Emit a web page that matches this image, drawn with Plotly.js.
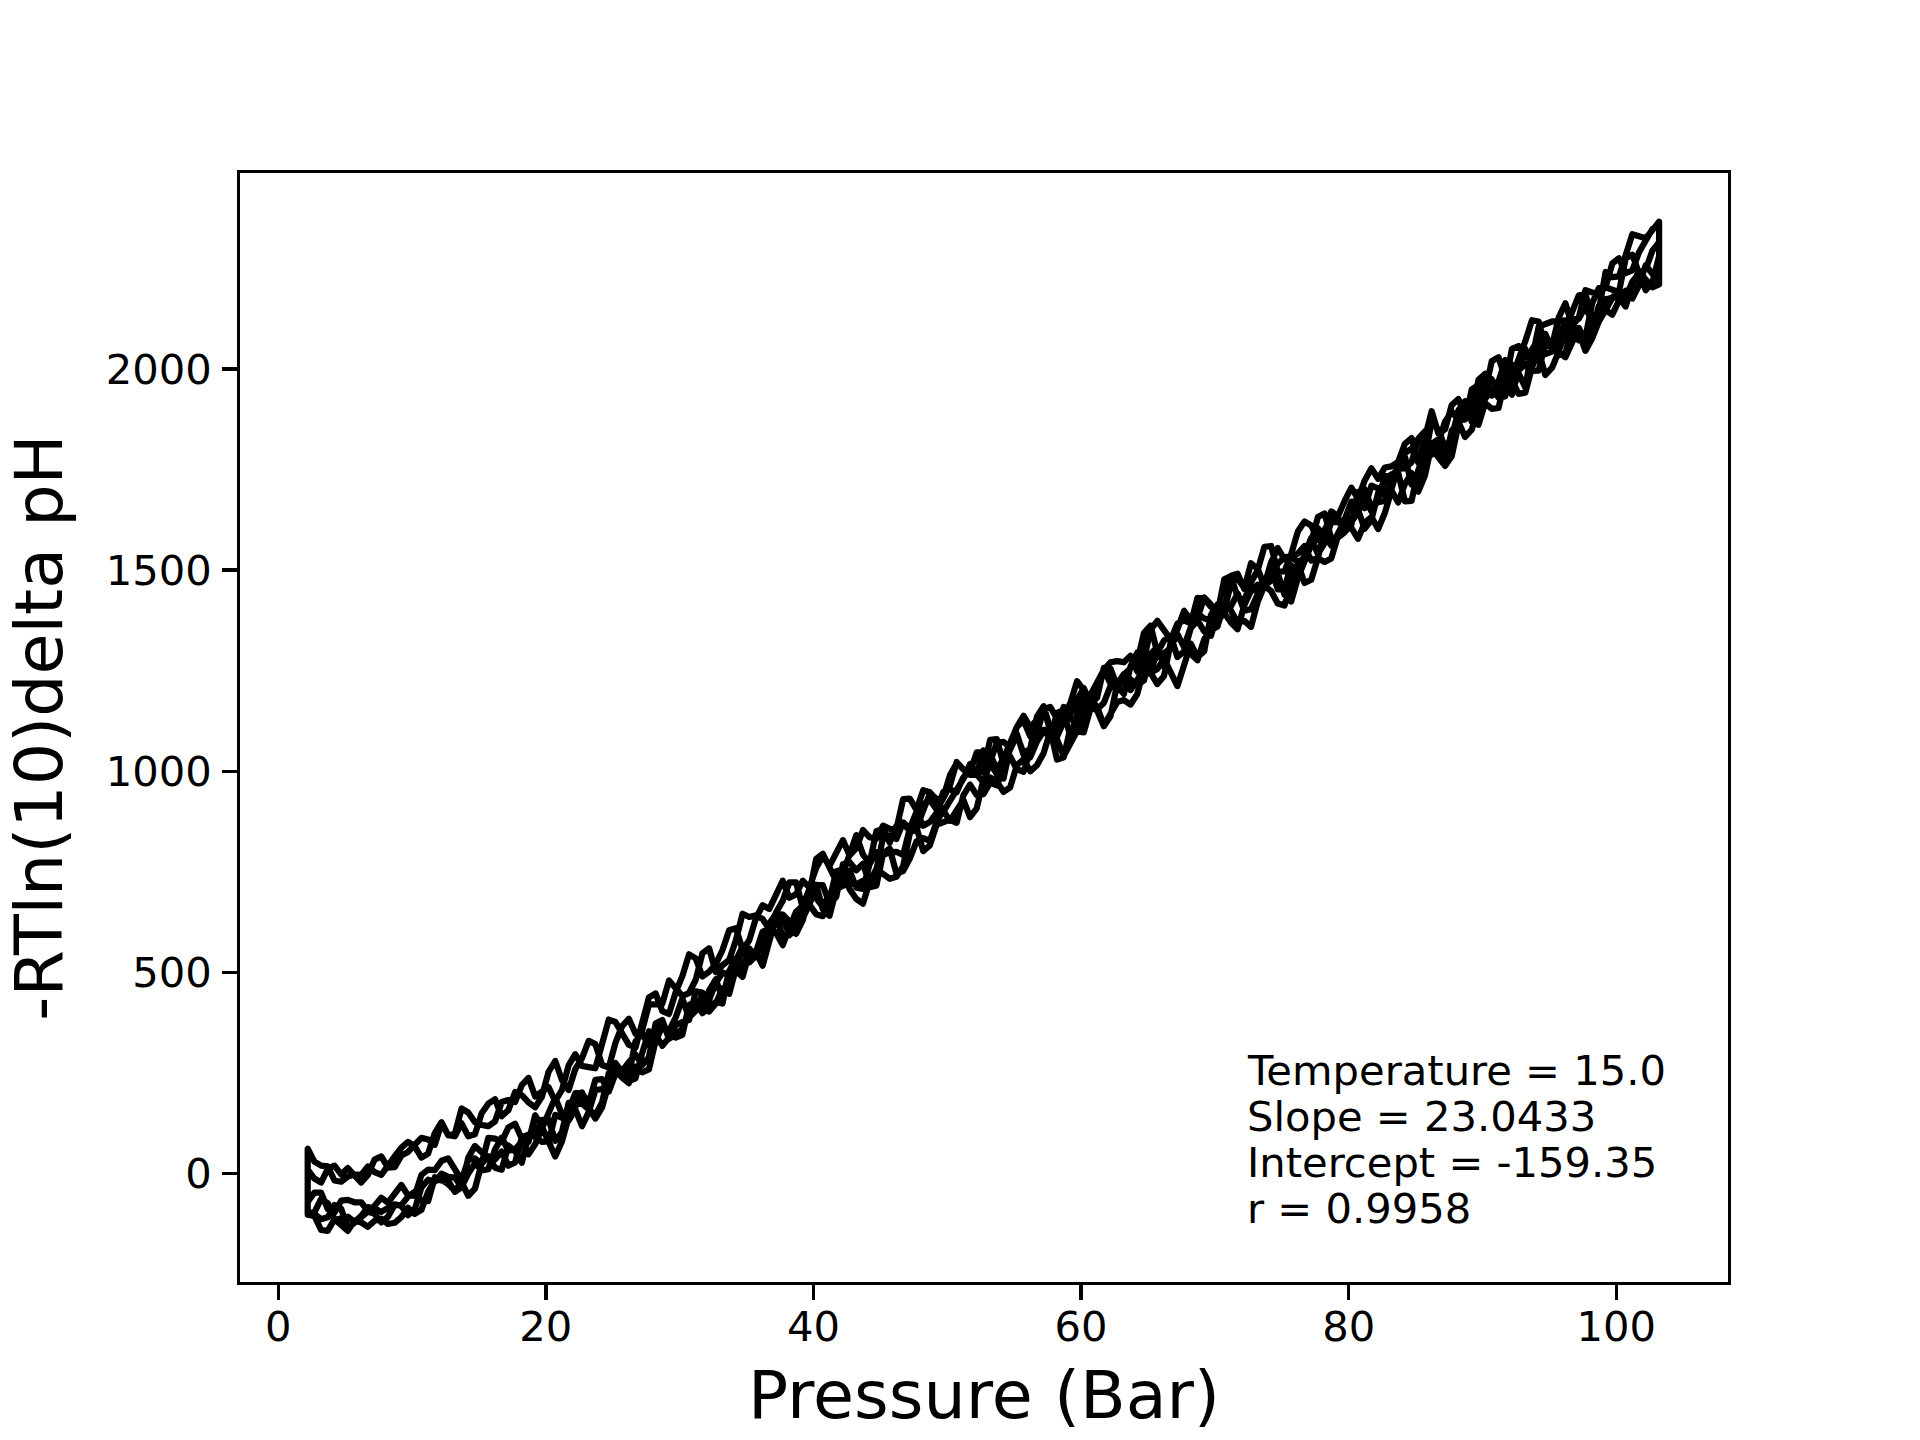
<!DOCTYPE html>
<html>
<head>
<meta charset="utf-8">
<script src="https://cdn.plot.ly/plotly-3.0.1.min.js"></script>
<style>
  html, body { margin: 0; padding: 0; background: #fff; }
  #chart { width: 1920px; height: 1440px; }
  .scatterlayer .js-line { stroke-linejoin: round; }
</style>
</head>
<body>
<div id="chart"></div>
<script>
// Pressure readings (Bar); every sweep has a reading at each value of `pressure`
// and one at each value of `pressureMid`. Values are listed in increasing-pressure order.
const pressure = [2.2,3.2,4.2,5.2,6.2,7.2,8.2,9.2,10.2,11.2,12.2,13.2,14.2,15.2,16.2,17.2,18.2,19.2,20.2,21.2,
  22.2,23.2,24.2,25.2,26.2,27.2,28.2,29.2,30.2,31.2,32.2,33.2,34.2,35.2,36.2,37.2,38.2,39.2,40.2,41.2,
  42.2,43.2,44.2,45.2,46.2,47.2,48.2,49.2,50.2,51.2,52.2,53.2,54.2,55.2,56.2,57.2,58.2,59.2,60.2,61.2,
  62.2,63.2,64.2,65.2,66.2,67.2,68.2,69.2,70.2,71.2,72.2,73.2,74.2,75.2,76.2,77.2,78.2,79.2,80.2,81.2,
  82.2,83.2,84.2,85.2,86.2,87.2,88.2,89.2,90.2,91.2,92.2,93.2,94.2,95.2,96.2,97.2,98.2,99.2,100.2,101.2,
  102.2,103.2];
const pressureMid = [2.7,3.7,4.7,5.7,6.7,7.7,8.7,9.7,10.7,11.7,12.7,13.7,14.7,15.7,16.7,17.7,18.7,19.7,20.7,21.7,
  22.7,23.7,24.7,25.7,26.7,27.7,28.7,29.7,30.7,31.7,32.7,33.7,34.7,35.7,36.7,37.7,38.7,39.7,40.7,41.7,
  42.7,43.7,44.7,45.7,46.7,47.7,48.7,49.7,50.7,51.7,52.7,53.7,54.7,55.7,56.7,57.7,58.7,59.7,60.7,61.7,
  62.7,63.7,64.7,65.7,66.7,67.7,68.7,69.7,70.7,71.7,72.7,73.7,74.7,75.7,76.7,77.7,78.7,79.7,80.7,81.7,
  82.7,83.7,84.7,85.7,86.7,87.7,88.7,89.7,90.7,91.7,92.7,93.7,94.7,95.7,96.7,97.7,98.7,99.7,100.7,101.7,
  102.7];

// -RTln(10) delta pH, sweep 1 (up, then down)
const run1Up = [-70,-47,-97,-65,-71,-80,-72,-28,-55,10,32,8,35,25,87,115,87,73,155,148,200,175,235,248,245,348,345,355,435,405,432,500,530,
  525,582,599,611,666,685,695,739,711,770,792,800,858,865,897,955,985,995,1043,1031,1110,1087,1154,1131,1170,1202,1207,1271,1271,1248,1352,1351,1367,1368,1429,1403,1467,1455,1503,1474,1532,1541,1524,1600,1619,1630,1603,1692,1738,1671,1748,1802,1759,1861,1886,1928,1929,1999,1954,2076,2043,2115,2071,2163,2203,2191,2284,2247,2315];
const run1UpMid = [-47,-88,-67,-71,-93,-60,-49,-54,-3,9,38,-16,38,89,79,124,48,112,189,157,200,233,204,249,329,319,368,388,388,446,474,493,565,541,613,568,651,708,663,715,753,708,799,799,792,899,874,949,948,998,1052,1005,1068,1126,1093,1160,1138,1224,1167,1252,1274,1287,1278,1374,1327,1375,1431,1409,1398,1479,1517,1461,1516,1534,1560,1530,1632,1612,1649,1625,1723,1742,1672,1793,1783,1783,1901,1900,1951,1932,1989,2048,2037,2087,2121,2080,2201,2195,2275,2238,2294];
const run1Down = [62,20,-17,-7,-3,4,23,65,68,50,128,99,152,121,130,183,220,192,215,208,297,265,315,377,320,375,448,397,491,535,502,556,610,
  580,667,696,686,728,760,765,829,809,836,865,856,932,953,929,990,1006,992,1078,1019,1090,1056,1162,1086,1137,1157,1154,1212,1233,1227,1244,1237,1341,1291,1328,1360,1400,1374,1421,1448,1412,1516,1476,1520,1585,1605,1618,1602,1698,1714,1695,1812,1769,1869,1849,1955,1969,2011,2009,2105,2118,2120,2125,2114,2173,2177,2210,2222,2210];
const run1DownMid = [30,18,-20,-2,18,-3,43,79,40,101,95,162,128,118,178,178,238,205,180,269,268,262,383,345,314,438,404,451,545,490,521,605,557,635,658,728,694,711,789,799,791,854,832,857,931,904,948,936,1020,991,1002,1080,1056,1045,1136,1106,1123,1109,1192,1170,1219,1202,1257,1217,1321,1308,1276,1351,1417,1369,1359,1461,1417,1466,1468,1530,1529,1607,1578,1632,1642,1668,1741,1735,1787,1846,1831,1909,1939,2022,1997,2024,2111,2119,2122,2156,2125,2177,2155,2243,2203];

// sweep 2
const run2Up = [-100,-113,-78,-135,-107,-100,-107,-78,-45,-68,-17,-45,40,53,35,20,90,98,135,103,173,160,177,258,277,270,373,335,360,422,455,435,535,
  560,533,646,627,630,718,641,716,719,712,795,746,783,834,874,877,929,908,985,949,1015,1000,1045,1080,1070,1137,1151,1137,1242,1215,1292,1260,1338,1358,1380,1393,1485,1425,1500,1560,1497,1596,1611,1593,1634,1705,1723,1727,1758,1814,1767,1895,1850,1925,1893,1988,1944,2050,2028,2050,2048,2095,2183,2123,2241,2230,2335,2325,2366];
const run2UpMid = [-100,-108,-87,-122,-94,-121,-78,-57,-67,-9,-18,-34,69,37,55,28,97,134,82,176,174,146,250,255,296,289,382,345,404,411,483,503,510,539,622,644,596,697,657,706,720,728,716,808,752,826,827,903,901,886,979,975,960,1030,1015,1100,1038,1106,1162,1112,1217,1226,1226,1309,1312,1311,1392,1374,1477,1433,1470,1558,1496,1539,1621,1575,1646,1672,1677,1753,1755,1769,1828,1829,1840,1910,1887,1973,1974,1960,2057,2027,2087,2044,2142,2186,2145,2228,2282,2330,2345];
const run2Down = [10,-22,20,14,-22,35,15,45,72,85,125,93,93,150,185,158,195,165,253,233,260,330,270,325,385,357,420,480,442,482,560,518,580,
  638,633,649,724,661,782,765,746,841,772,857,865,852,903,932,923,981,992,1021,982,1093,1035,1100,1145,1085,1194,1223,1218,1240,1273,1362,1293,1348,1376,1432,1375,1486,1453,1464,1519,1527,1522,1569,1641,1581,1613,1701,1669,1701,1783,1720,1814,1772,1863,1874,1915,1903,1972,1941,2044,2003,2029,2102,2096,2145,2196,2217,2196,2280];
const run2DownMid = [-12,12,-2,-3,-3,43,16,54,89,72,96,125,98,174,143,203,177,191,280,208,287,322,264,367,348,420,422,463,449,548,501,531,646,642,608,678,724,698,795,727,790,793,851,823,870,859,944,899,954,1018,973,993,1059,1041,1074,1084,1152,1136,1190,1252,1201,1258,1344,1294,1307,1399,1381,1415,1392,1491,1450,1463,1555,1531,1527,1632,1578,1594,1694,1657,1672,1759,1713,1769,1825,1794,1890,1861,1901,1974,1938,2004,1985,2043,2062,2066,2157,2177,2178,2238,2215];

// sweep 3
const run3Up = [-102,-140,-113,-142,-121,-117,-125,-108,-100,-45,-15,-43,-55,25,15,70,27,93,80,80,165,163,165,257,225,252,330,355,345,428,415,423,505,
  548,517,638,597,635,717,671,769,754,720,835,832,858,918,905,965,1005,1047,1023,1073,1110,1110,1160,1112,1142,1207,1183,1255,1192,1295,1250,1325,1284,1356,1348,1390,1410,1399,1441,1490,1439,1480,1557,1585,1591,1620,1682,1675,1735,1753,1827,1787,1869,1874,1949,1945,2029,1979,2069,2118,2058,2163,2127,2190,2203,2275,2245,2320,2360];
const run3UpMid = [-105,-142,-128,-117,-132,-112,-122,-85,-90,-17,-26,-21,-37,43,10,56,93,79,43,140,202,137,224,239,266,259,365,338,419,399,427,502,489,550,580,590,644,669,717,688,774,770,755,841,873,851,929,933,1023,999,1048,1071,1059,1138,1128,1099,1160,1177,1168,1257,1211,1261,1235,1295,1337,1298,1375,1337,1398,1442,1403,1478,1492,1422,1521,1604,1561,1623,1644,1646,1733,1752,1768,1845,1816,1894,1874,1960,2020,1977,2022,2121,2056,2128,2108,2196,2189,2262,2238,2290,2348];
const run3Down = [-98,-63,-115,-107,-105,-87,-85,-80,-89,-15,0,-10,0,8,60,57,80,145,78,140,160,153,210,275,230,300,345,338,377,453,403,460,510,
  537,601,625,593,677,645,681,757,683,726,745,738,846,802,867,880,940,941,972,1005,1005,1050,1103,1029,1107,1097,1161,1144,1177,1192,1245,1280,1212,1317,1298,1415,1370,1413,1452,1506,1454,1496,1580,1567,1619,1670,1654,1703,1724,1791,1770,1869,1805,1897,1869,1978,1956,1936,2050,1996,2066,2039,2091,2076,2146,2170,2175,2258,2230];
const run3DownMid = [-96,-73,-110,-120,-83,-95,-76,-103,-34,-20,-8,-33,26,11,90,60,79,118,146,132,118,208,229,254,237,354,318,369,382,450,423,447,560,551,610,636,607,668,640,751,707,671,757,733,764,861,816,875,872,967,943,965,1037,999,1083,1103,1035,1099,1156,1114,1172,1166,1255,1254,1246,1264,1284,1388,1394,1353,1449,1466,1452,1512,1535,1540,1620,1626,1669,1710,1685,1749,1802,1781,1849,1828,1920,1910,1934,1973,1995,1995,2063,2034,2102,2045,2118,2135,2194,2208,2236];

const xTicks = [0, 20, 40, 60, 80, 100];
const yTicks = [0, 500, 1000, 1500, 2000];
const statLines = ['Temperature = 15.0', 'Slope = 23.0433', 'Intercept = -159.35', 'r = 0.9958'];

// Join the sweeps into one continuous record: up (increasing P) then down (decreasing P)
const sweeps = [
  [run1Up, run1UpMid, false], [run1Down, run1DownMid, true],
  [run2Up, run2UpMid, false], [run2Down, run2DownMid, true],
  [run3Up, run3UpMid, false], [run3Down, run3DownMid, true]
];
const xs = [], ys = [];
sweeps.forEach(([vals, mids, down]) => {
  const px = [], py = [];
  for (let i = 0; i < pressure.length && i < vals.length; i++) {
    px.push(pressure[i]); py.push(vals[i]);
    if (i < pressureMid.length && i < mids.length) { px.push(pressureMid[i]); py.push(mids[i]); }
  }
  if (down) { px.reverse(); py.reverse(); }
  px.forEach((v, j) => { xs.push(v); ys.push(py[j]); });
});

const PT = 300 / 72; // matplotlib points -> px at 300 dpi
const tickFont = { family: 'DejaVu Sans', size: 10 * PT, color: '#000' };
const labelFont = { family: 'DejaVu Sans', size: 16 * PT, color: '#000' };

const trace = {
  type: 'scatter', mode: 'lines', x: xs, y: ys,
  line: { color: '#000000', width: 1.5 * PT },
  hoverinfo: 'skip'
};

const plotTop = 173, plotBottom = 1282, plotLeft = 240, plotRight = 1728;
const plotH = plotBottom - plotTop, plotW = plotRight - plotLeft;
const textLeft = 1247;
const firstCenter = 1070.6, lineStep = 46;

const annotations = statLines.map((t, i) => ({
  text: t, showarrow: false, xref: 'paper', yref: 'paper',
  x: (textLeft - plotLeft) / plotW,
  y: (plotBottom - (firstCenter + i * lineStep)) / plotH,
  xanchor: 'left', yanchor: 'middle', align: 'left',
  font: tickFont, borderpad: 0, borderwidth: 0
}));

const axisCommon = {
  ticks: 'outside', ticklen: 3.5 * PT, tickwidth: 0.8 * PT, tickcolor: '#000',
  showline: true, linewidth: 0.8 * PT, linecolor: '#000', mirror: true,
  showgrid: false, zeroline: false, tickfont: tickFont, automargin: false
};

const layout = {
  width: 1920, height: 1440,
  margin: { l: plotLeft, r: 1920 - plotRight, t: plotTop, b: 1440 - plotBottom, pad: 0 },
  paper_bgcolor: '#ffffff', plot_bgcolor: '#ffffff',
  showlegend: false,
  font: { family: 'DejaVu Sans', color: '#000' },
  xaxis: Object.assign({}, axisCommon, {
    range: [-2.86, 108.35], tickmode: 'array', tickvals: xTicks,
    ticklabelstandoff: -9,
    title: { text: 'Pressure (Bar)', font: labelFont, standoff: 22 }
  }),
  yaxis: Object.assign({}, axisCommon, {
    range: [-269.2, 2487], tickmode: 'array', tickvals: yTicks,
    ticklabelstandoff: 2,
    title: { text: '-RTln(10)delta pH', font: labelFont, standoff: 26 }
  }),
  annotations: annotations
};

Plotly.newPlot('chart', [trace], layout, { displayModeBar: false, staticPlot: true });
</script>
</body>
</html>
